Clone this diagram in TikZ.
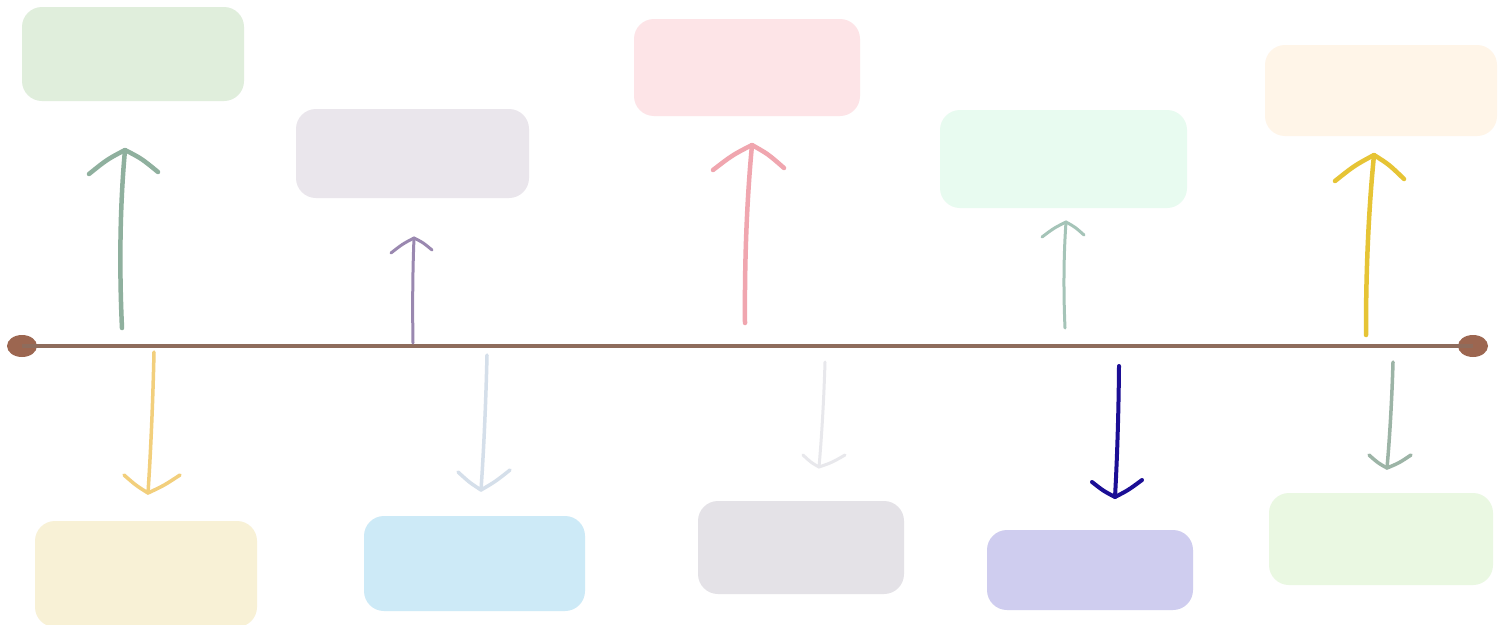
\documentclass[tikz,border=0pt]{standalone}
\usetikzlibrary{calc,shapes.geometric}
\definecolor{lineBrown}{HTML}{8E6C5C}
\definecolor{dotBrown}{HTML}{9C6650}
% card fills
\definecolor{fGreen}{HTML}{E0EEDC}
\definecolor{fLilac}{HTML}{EAE6EC}
\definecolor{fPink}{HTML}{FDE4E7}
\definecolor{fMint}{HTML}{E8FBF0}
\definecolor{fPeach}{HTML}{FFF5E8}
\definecolor{fCream}{HTML}{F8F1D6}
\definecolor{fSky}{HTML}{CDEAF7}
\definecolor{fGrey}{HTML}{E4E2E7}
\definecolor{fPeri}{HTML}{CFCDEF}
\definecolor{fLeaf}{HTML}{EAF8E2}
% pen colours
\definecolor{pSage}{HTML}{8FB09E}
\definecolor{pPurple}{HTML}{9A88B0}
\definecolor{pRose}{HTML}{F0A6AF}
\definecolor{pSea}{HTML}{A5C4B8}
\definecolor{pGold}{HTML}{E6C435}
\definecolor{pButter}{HTML}{F2CF7C}
\definecolor{pFrost}{HTML}{D5DFEA}
\definecolor{pMist}{HTML}{E8E8EC}
\definecolor{pNavy}{HTML}{1B0E95}
\definecolor{pMoss}{HTML}{9CB4A6}

\tikzset{
  card/.style={rectangle, rounded corners=20pt, inner sep=0pt, draw=none},
  pen/.style={line cap=round, line join=round},
  enddot/.style={ellipse, fill=dotBrown, minimum width=30pt, minimum height=22pt, inner sep=0pt},
}

% hand-drawn arrow: #1 name, #2 colour, #3 width, #4 tail, #5 tip,
% #6 left barb end, #7 right barb end, #8 barb bulge (neg = up), #9 shaft sway
\newcommand{\sketchArrow}[9]{%
  \coordinate (#1-tail) at #4;
  \coordinate (#1-tip) at #5;
  \coordinate (#1-l) at #6;
  \coordinate (#1-r) at #7;
  \draw[pen, draw=#2, line width=#3]
    (#1-tail) .. controls ($(#1-tail)!0.35!(#1-tip)+(#9,0)$) and ($(#1-tail)!0.7!(#1-tip)+(#9,0)$) .. (#1-tip);
  \draw[pen, draw=#2, line width=#3]
    (#1-l) .. controls ($(#1-l)!0.5!(#1-tip)+(0,#8)$) .. (#1-tip)
           .. controls ($(#1-tip)!0.5!(#1-r)+(0,#8)$) .. (#1-r);
}

\begin{document}
\begin{tikzpicture}[x=1pt,y=-1pt]
\useasboundingbox (0,0) rectangle (1504,624);
\fill[white] (0,0) rectangle (1504,624);

% cards above the line
\node[card, fill=fGreen, minimum width=222pt, minimum height=94pt] (t1) at (133,54) {};
\node[card, fill=fLilac, minimum width=233pt, minimum height=89pt] (t2) at (412.5,153.5) {};
\node[card, fill=fPink,  minimum width=226pt, minimum height=97pt] (t3) at (747,67.5) {};
\node[card, fill=fMint,  minimum width=247pt, minimum height=98pt] (t4) at (1063.5,159) {};
\node[card, fill=fPeach, minimum width=232pt, minimum height=91pt] (t5) at (1381,90.5) {};

% cards below the line
\node[card, fill=fCream, minimum width=222pt, minimum height=106pt] (b1) at (146,574) {};
\node[card, fill=fSky,   minimum width=221pt, minimum height=95pt]  (b2) at (474.5,563.5) {};
\node[card, fill=fGrey,  minimum width=206pt, minimum height=93pt]  (b3) at (801,547.5) {};
\node[card, fill=fPeri,  minimum width=206pt, minimum height=80pt]  (b4) at (1090,570) {};
\node[card, fill=fLeaf,  minimum width=224pt, minimum height=92pt]  (b5) at (1381,539) {};

% the time line and its end dots
\node[enddot] (startDot) at (22,346) {};
\node[enddot] (endDot) at (1473,346) {};
\draw[lineBrown, line width=4pt] (startDot.center) -- (endDot.center);

% arrows pointing up
\sketchArrow{u1}{pSage}{4.5pt}{(122,328)}{(125,150)}{(89,174)}{(158,172)}{-2.5}{-4}
\sketchArrow{u2}{pPurple}{3pt}{(413,343)}{(414,238)}{(391,253)}{(432,250)}{-1.5}{-1}
\sketchArrow{u3}{pRose}{4.5pt}{(745,323)}{(752,145)}{(713,170)}{(784,168)}{-2.5}{-3}
\sketchArrow{u4}{pSea}{3pt}{(1065,328)}{(1066,222)}{(1042,237)}{(1084,235)}{-1.5}{-2}
\sketchArrow{u5}{pGold}{4.5pt}{(1366,335)}{(1374,155)}{(1335,181)}{(1404,179)}{-2.5}{-3}

% arrows pointing down
\sketchArrow{d1}{pButter}{3.5pt}{(154,352)}{(148,493)}{(124,475)}{(180,475)}{1.5}{1}
\sketchArrow{d2}{pFrost}{3.5pt}{(487,355)}{(481,490)}{(458,472)}{(510,470)}{1.5}{1}
\sketchArrow{d3}{pMist}{3pt}{(825,362)}{(819,467)}{(803,455)}{(845,455)}{1.5}{1}
\sketchArrow{d4}{pNavy}{4pt}{(1119,366)}{(1115,497)}{(1092,482)}{(1142,480)}{1.5}{1}
\sketchArrow{d5}{pMoss}{3.5pt}{(1393,362)}{(1387,468)}{(1369,455)}{(1411,455)}{1.5}{1}
\end{tikzpicture}
\end{document}
